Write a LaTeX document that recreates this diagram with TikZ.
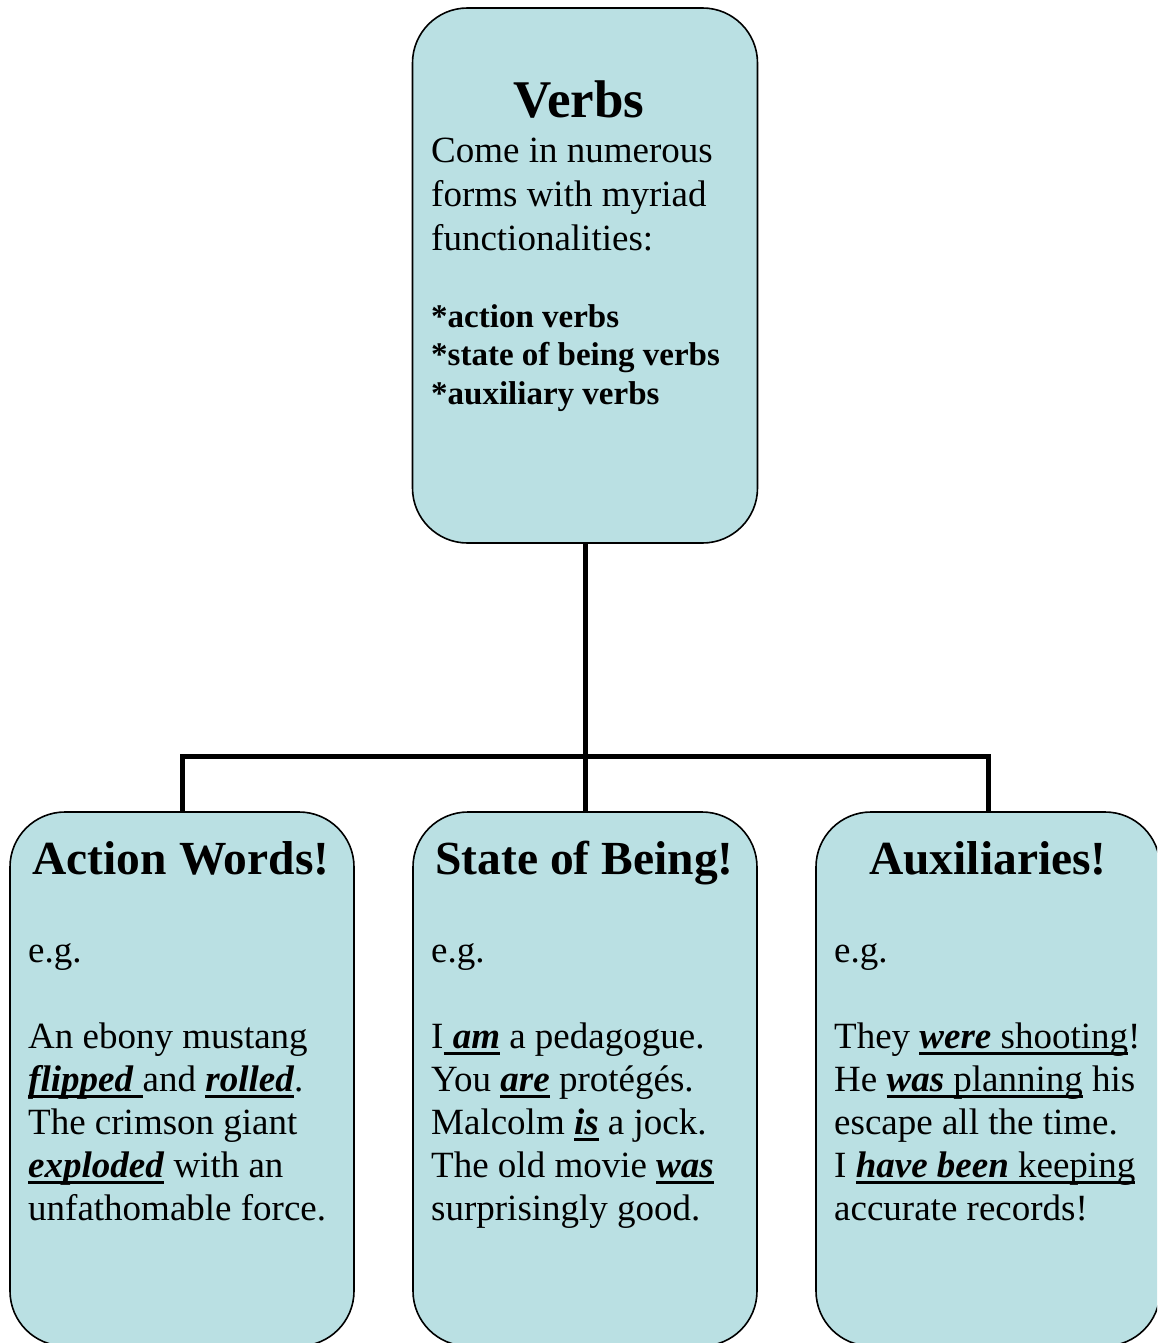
\documentclass[tikz,border=0pt]{standalone}
\usepackage{fontspec}
\setmainfont{Liberation Serif}
\definecolor{boxfill}{RGB}{186,224,227}
\newsavebox\ulbox
\newcommand\bi[1]{\textbf{\textit{#1}}}
\newcommand\uln[1]{\sbox\ulbox{#1}\rlap{\rule[-6.5pt]{\wd\ulbox}{3pt}}\usebox\ulbox}
\tikzset{
  box/.style={draw=black, line width=1.6pt, fill=boxfill, rounded corners=55pt, inner sep=0pt},
  conn/.style={draw=black, line width=5pt},
  txt/.style={anchor=base west, inner sep=0pt, font=\fontsize{37}{43}\selectfont},
  lst/.style={anchor=base west, inner sep=0pt, font=\fontsize{33}{39}\selectfont\bfseries},
  ttl/.style={anchor=base, inner sep=0pt, font=\fontsize{47.5}{52}\selectfont\bfseries},
}
\begin{document}
\begin{tikzpicture}[x=1pt, y=-1pt]
\useasboundingbox (0,0) rectangle (1157,1343);
\clip (0,0) rectangle (1157,1343);
% boxes
\node[box, minimum width=345pt, minimum height=535pt] (verbs) at (585,275.5) {};
\node[box, minimum width=344pt, minimum height=534pt] (action) at (182,1079) {};
\node[box, minimum width=344pt, minimum height=534pt] (state) at (585,1079) {};
\node[box, minimum width=344pt, minimum height=534pt] (aux) at (988,1079) {};
% connectors
\coordinate (bus) at (585,756);
\draw[conn] (verbs.south) -- (state.north);
\draw[conn] (action.north) -- (action.north |- bus) -- (aux.north |- bus) -- (aux.north);
% top box text
\node[anchor=base, inner sep=0pt, font=\fontsize{53}{56}\selectfont\bfseries] (vt) at (579,118) {Verbs};
\node[txt] (v1) at (431,163) {Come in numerous};
\node[txt] (v2) at (431,207) {forms with myriad};
\node[txt] (v3) at (431,250) {functionalities:};
\node[lst] (v4) at (431,327) {*action verbs};
\node[lst] (v5) at (431,365) {*state of being verbs};
\node[lst] (v6) at (431,404) {*auxiliary verbs};
% action words
\node[ttl] (at) at (181,874) {Action Words!};
\node[txt] (a0) at (28,962) {e.g.};
\node[txt] (a1) at (28,1048) {An ebony mustang};
\node[txt] (a2) at (28,1091) {\uln{\bi{flipped} }and \uln{\bi{rolled}}.};
\node[txt] (a3) at (28,1134) {The crimson giant};
\node[txt] (a4) at (28,1177) {\uln{\bi{exploded}} with an};
\node[txt] (a5) at (28,1220) {unfathomable force.};
% state of being
\node[ttl] (st) at (584.5,874) {State of Being!};
\node[txt] (s0) at (431,962) {e.g.};
\node[txt] (s1) at (431,1048) {I\uln{ \bi{am}} a pedagogue.};
\node[txt] (s2) at (431,1091) {You \uln{\bi{are}} protégés.};
\node[txt] (s3) at (431,1134) {Malcolm \uln{\bi{is}} a jock.};
\node[txt] (s4) at (431,1177) {The old movie \uln{\bi{was}}};
\node[txt] (s5) at (431,1220) {surprisingly good.};
% auxiliaries
\node[ttl] (xt) at (988,874) {Auxiliaries!};
\node[txt] (x0) at (834,962) {e.g.};
\node[txt] (x1) at (834,1048) {They \uln{\bi{were} shooting}!};
\node[txt] (x2) at (834,1091) {He \uln{\bi{was} planning} his};
\node[txt] (x3) at (834,1134) {escape all the time.};
\node[txt] (x4) at (834,1177) {I \uln{\bi{have been} keeping}};
\node[txt] (x5) at (834,1220) {accurate records!};
\end{tikzpicture}
\end{document}
